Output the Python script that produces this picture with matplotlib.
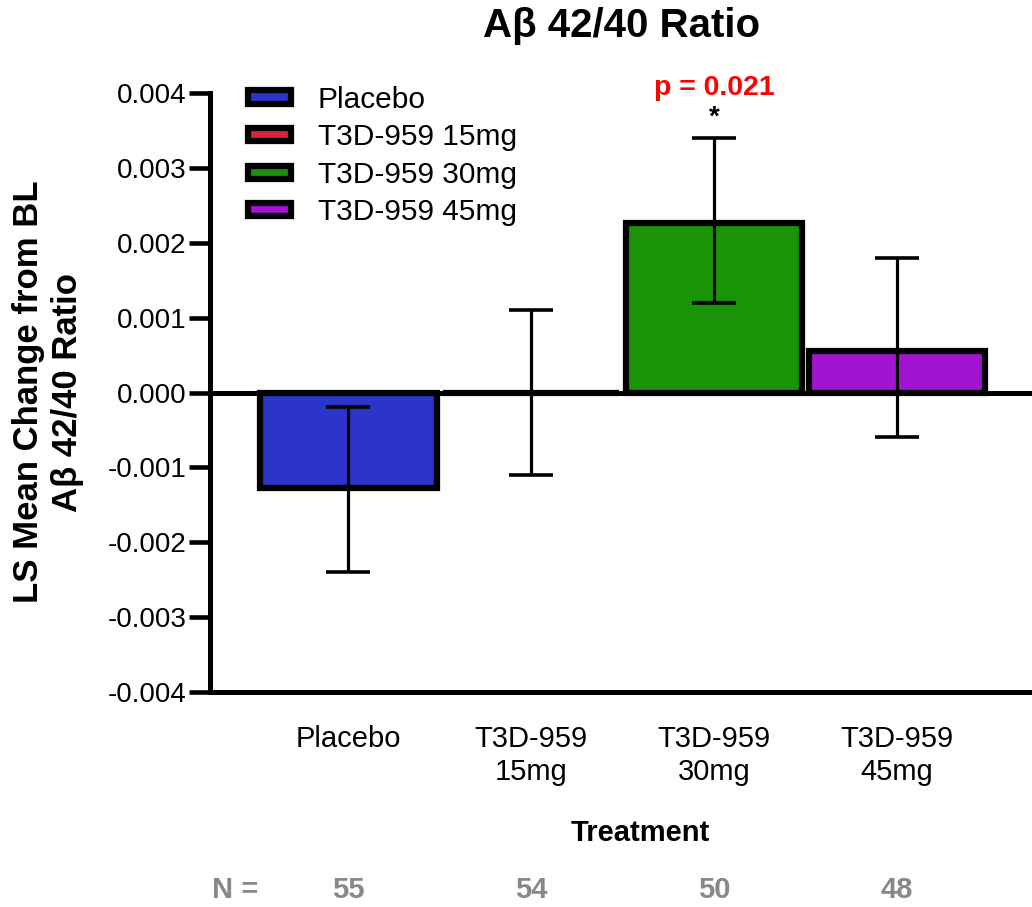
import matplotlib
matplotlib.use('Agg')
import matplotlib.pyplot as plt
import numpy as np

plt.rcParams['font.family'] = ['Liberation Sans', 'DejaVu Sans']

# data
groups = ['Placebo', 'T3D-959 15mg', 'T3D-959 30mg', 'T3D-959 45mg']
xlabels = ['Placebo', 'T3D-959\n15mg', 'T3D-959\n30mg', 'T3D-959\n45mg']
means = [-0.00127, 0.0, 0.00227, 0.00056]
err_lo = [-0.0024, -0.0011, 0.0012, -0.0006]
err_hi = [-0.0002, 0.0011, 0.0034, 0.0018]
nvals = [55, 54, 50, 48]
cols = ['#2a34c8', '#e0203a', '#199405', '#a114d0']
yticks = [-0.004, -0.003, -0.002, -0.001, 0.0, 0.001, 0.002, 0.003, 0.004]

fig = plt.figure(figsize=(10.32, 9.07), dpi=100)
ax = fig.add_axes([0.2035, 0.237, 0.7965, 0.6605])

x = np.arange(len(groups))
means = np.array(means)
yerr = np.array([means - np.array(err_lo), np.array(err_hi) - means])

ax.bar(x, means, width=0.965, color=cols, edgecolor='k', linewidth=4.5, zorder=2)
ax.errorbar(x, means, yerr=yerr, fmt='none', ecolor='k', elinewidth=2.3,
            capsize=16, capthick=2.6, zorder=3)
ax.axhline(0, color='k', lw=3.6, zorder=4)

# legend handles
hnd = [plt.Rectangle((0, 0), 1, 1, facecolor=c, edgecolor='k', linewidth=4.5) for c in cols]
ax.legend(hnd, groups, loc='upper left', bbox_to_anchor=(0.046, 1.012),
          frameon=False, fontsize=21.5, handlelength=1.45, handleheight=0.3,
          handletextpad=0.9, labelspacing=0.32, borderpad=0, borderaxespad=0)

ax.set_xlim(-0.757, 3.74)
ax.set_ylim(-0.004, 0.004)
ax.set_yticks(yticks)
ax.set_yticklabels([f'{v:.3f}' for v in yticks])
ax.set_xticks(x)
ax.set_xticklabels(xlabels)
ax.tick_params(axis='y', length=15, width=3.3, labelsize=20, pad=2)
ax.tick_params(axis='x', length=0, labelsize=21, pad=24)
for s in ['top', 'right']:
    ax.spines[s].set_visible(False)
for s in ['left', 'bottom']:
    ax.spines[s].set_linewidth(3.6)

fig.text(622 / 1032, 1 - 26 / 907, 'A\u03b2 42/40 Ratio', ha='center', va='center',
         fontsize=29, fontweight='bold')
fig.text(48 / 1032, 1 - 392 / 907, 'LS Mean Change from BL\nA\u03b2 42/40 Ratio', rotation=90,
         ha='center', va='center', fontsize=25, fontweight='bold', linespacing=1.25)

ax.text(2, 0.00407, 'p = 0.021', color='#ff0000', fontsize=20.5, fontweight='bold',
        ha='center', va='center')
ax.text(2, 0.0035, '*', color='k', fontsize=20, fontweight='bold', ha='center', va='bottom')

fig.text(640 / 1032, 1 - 833 / 907, 'Treatment', ha='center', va='center',
         fontsize=21, fontweight='bold')
ny = 1 - 890 / 907
fig.text(235 / 1032, ny, 'N =', ha='center', va='center', fontsize=21,
         fontweight='bold', color='#888888')
for xi, n in zip(x, nvals):
    xd = ax.transData.transform((xi, 0))[0] / fig.bbox.width
    fig.text(xd, ny, str(n), ha='center', va='center', fontsize=21,
             fontweight='bold', color='#888888')

fig.savefig('out.png', dpi=100)
